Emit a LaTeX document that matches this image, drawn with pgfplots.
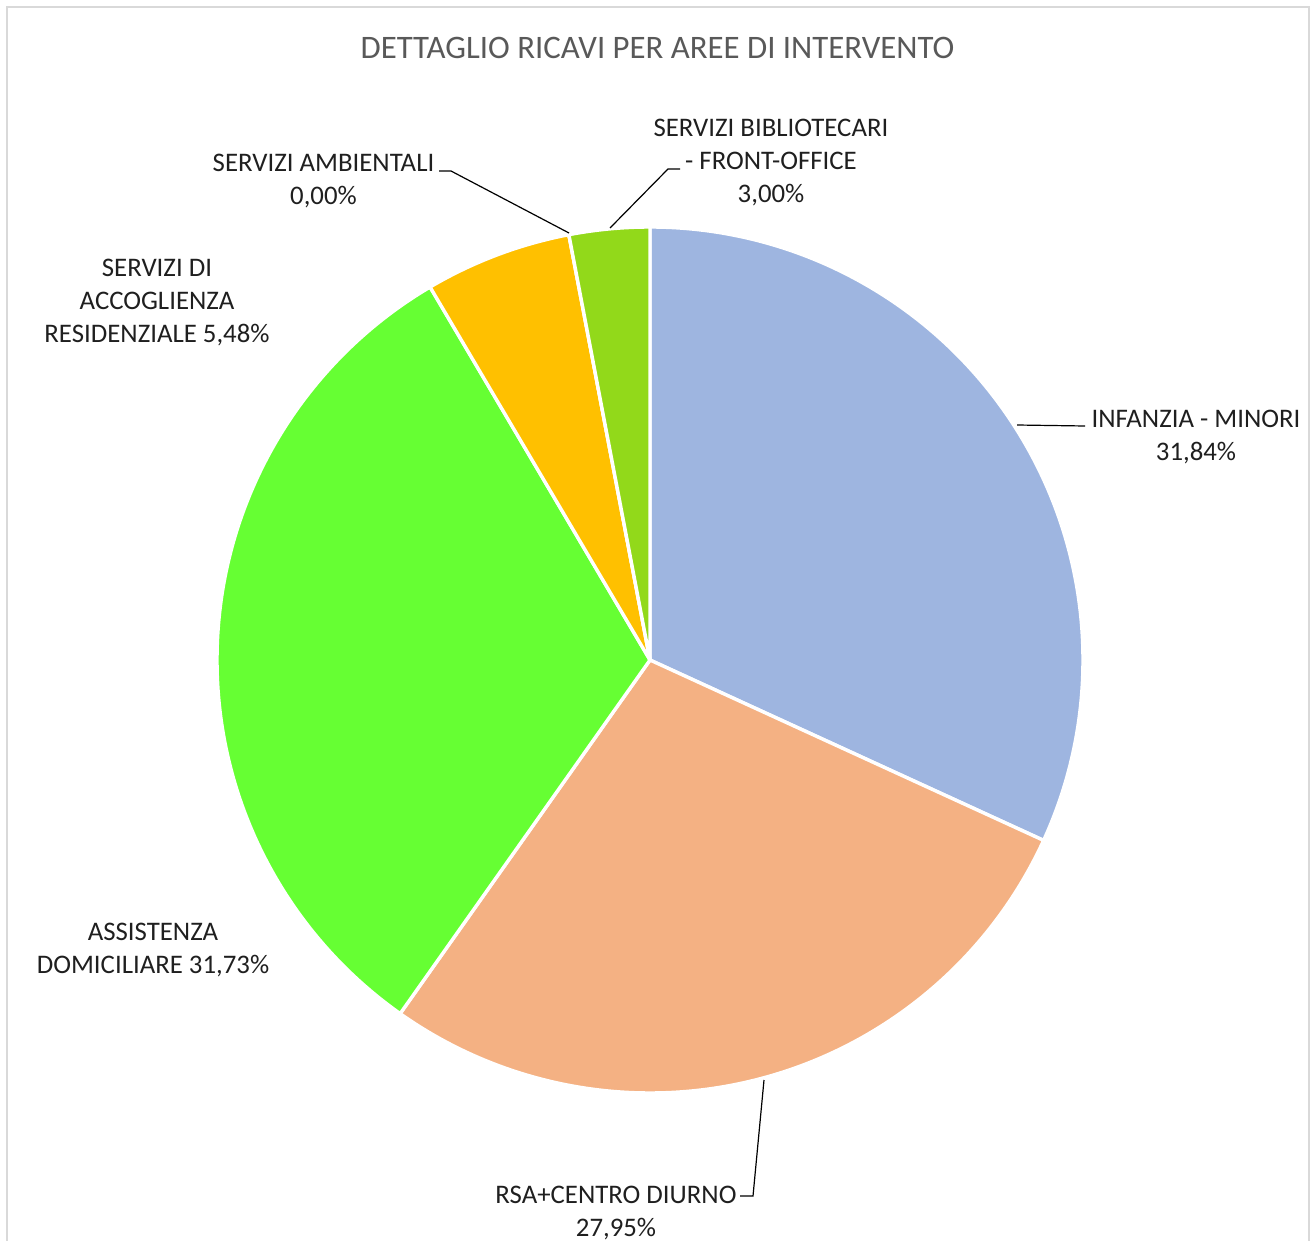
\documentclass[border=0pt]{standalone}
\usepackage{pgfplots}
\pgfplotsset{compat=1.18}
\usepackage{pgfplotstable}
\usepackage{fontspec}
\setmainfont{Carlito}

\definecolor{slice0}{HTML}{9EB5E0}
\definecolor{slice1}{HTML}{F4B183}
\definecolor{slice2}{HTML}{66FF33}
\definecolor{slice3}{HTML}{FFC000}
\definecolor{slice4}{HTML}{A5A5A5}
\definecolor{slice5}{HTML}{92D91A}
\definecolor{titlegray}{HTML}{595959}
\definecolor{labelcol}{HTML}{1F1F1F}
\definecolor{framegray}{HTML}{D9D9D9}

% shares in percent, clockwise from 12 o'clock
\pgfplotstableread{
share
31.84
27.95
31.73
5.48
0.00
3.00
}\piedata

% one line of text, x = centre, y = middle of the capitals (pixels)
\newcommand{\lbl}[3]{\node[anchor=base, text=labelcol, inner sep=0pt,
  font=\fontsize{13.4}{16}\selectfont] at (axis cs:#1,#2+8.6) {#3};}

\begin{document}
\begin{tikzpicture}
\begin{axis}[
    scale only axis,
    width=658pt, height=620.5pt,
    xmin=0, xmax=1316, ymin=0, ymax=1241,
    y dir=reverse,
    hide axis,
    clip=false,
]
% frame
\draw[framegray, line width=1pt] (axis cs:7,1241) -- (axis cs:7,7) -- (axis cs:1308.5,7) -- (axis cs:1308.5,1241);

% slices
\def\cum{0}
\pgfplotsforeachungrouped \i in {0,...,5}{%
  \pgfplotstablegetelem{\i}{share}\of\piedata
  \let\v=\pgfplotsretval
  \pgfmathsetmacro\a{90-3.6*\cum}
  \pgfmathsetmacro\b{90-3.6*(\cum+\v)}
  \pgfmathsetmacro\sx{650+433*cos(\a)}
  \pgfmathsetmacro\sy{660-433*sin(\a)}
  \edef\slice{\noexpand\fill[slice\i, draw=white, line width=1.7pt, line join=round]
    (axis cs:650,660) -- (axis cs:\sx,\sy)
    arc[start angle=\a, end angle=\b, radius=216.5pt] -- cycle;}
  \slice
  \pgfmathsetmacro\cum{\cum+\v}
}

% title
\node[anchor=base, text=titlegray, inner sep=0pt, font=\fontsize{16.4}{19}\selectfont]
  at (axis cs:657.5,58.5) {DETTAGLIO RICAVI PER AREE DI INTERVENTO};

% leader lines
\draw[black, line width=0.6pt] (axis cs:680,169) -- (axis cs:668,169) -- (axis cs:610,228);
\draw[black, line width=0.6pt] (axis cs:439,171) -- (axis cs:451,171) -- (axis cs:569,233);
\draw[black, line width=0.6pt] (axis cs:1017,425) -- (axis cs:1085,426);
\draw[black, line width=0.6pt] (axis cs:764,1080) -- (axis cs:753,1196) -- (axis cs:740,1196);

% labels
\lbl{771}{128}{SERVIZI BIBLIOTECARI}
\lbl{771}{161}{- FRONT-OFFICE}
\lbl{771}{194}{3,00\%}
\lbl{323.5}{163}{SERVIZI AMBIENTALI}
\lbl{323.5}{196}{0,00\%}
\lbl{157}{268}{SERVIZI DI}
\lbl{157}{301}{ACCOGLIENZA}
\lbl{157}{334}{RESIDENZIALE 5,48\%}
\lbl{1196}{419}{INFANZIA - MINORI}
\lbl{1196}{452}{31,84\%}
\lbl{153}{932}{ASSISTENZA}
\lbl{153}{965}{DOMICILIARE 31,73\%}
\lbl{616}{1195}{RSA+CENTRO DIURNO}
\lbl{616}{1228}{27,95\%}
\end{axis}
\pgfresetboundingbox
\path[use as bounding box] (0,0) rectangle (658pt,620.5pt);
\end{tikzpicture}
\end{document}
